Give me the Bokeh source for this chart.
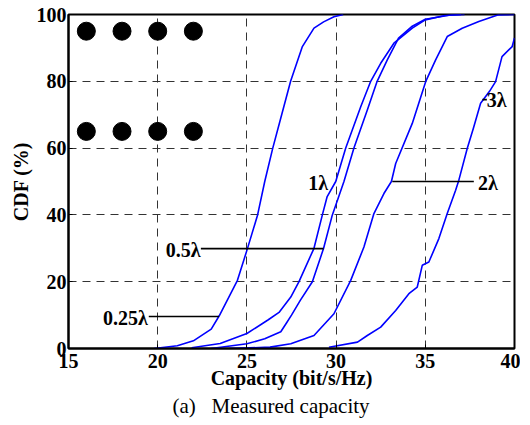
from bokeh.plotting import figure
from bokeh.models import Range1d, FixedTicker, Title
from bokeh.embed import file_html
from bokeh.resources import INLINE
from bokeh.core.properties import value

# ---- data ----
cap_025 = [19.8, 21.1, 22.0, 23.0, 23.45, 24.47, 25.03, 25.6, 26.0, 26.45, 26.9, 27.45, 28.1, 28.76, 29.3, 29.88, 30.4]
cdf_025 = [0, 0.8, 2.3, 5.8, 9.8, 20.4, 29.9, 40.0, 50.0, 60.0, 69.0, 80.0, 90.3, 95.9, 97.8, 99.3, 100]

cap_05 = [21.9, 23.5, 25.0, 26.2, 26.8, 27.46, 27.92, 28.76, 29.23, 29.5, 29.98, 30.54, 31.38, 31.94, 32.5, 33.24, 34.27, 35.0, 36.1, 37.0]
cdf_05 = [0.2, 1.5, 4.5, 8.6, 10.8, 15.4, 20.0, 30.0, 40.0, 45.5, 50.0, 60.0, 72.4, 80.0, 85.4, 91.4, 95.9, 98.4, 99.7, 100]

cap_1 = [23.0, 25.0, 26.0, 26.9, 27.2, 27.5, 28.0, 28.67, 29.3, 29.79, 30.44, 31.0, 31.75, 32.3, 32.87, 33.5, 34.27, 35.0, 36.5, 37.2]
cdf_1 = [0, 1.4, 2.9, 5.0, 7.5, 10.0, 14.5, 20.0, 30.0, 40.0, 50.0, 60.0, 71.4, 80.0, 86.4, 92.9, 96.5, 98.6, 99.9, 100]

cap_2 = [24.0, 26.3, 27.46, 28.76, 29.88, 30.82, 31.56, 32.12, 32.68, 33.1, 33.34, 34.27, 35.02, 35.58, 36.23, 37.07, 38.0, 39.1, 40.0]
cdf_2 = [0, 0.4, 1.4, 3.9, 10.4, 20.4, 30.4, 40.4, 46.4, 50.0, 55.4, 67.4, 79.9, 86.4, 93.4, 95.9, 97.9, 99.9, 100]

cap_3 = [29.6, 31.2, 31.75, 32.5, 33.34, 34.08, 34.55, 34.83, 35.2, 35.76, 36.23, 36.7, 36.88, 37.35, 37.7, 38.1, 38.6, 38.94, 39.3, 39.87, 40.0]
cdf_3 = [0.4, 1.9, 3.9, 6.4, 11.4, 16.4, 18.4, 24.9, 25.9, 32.9, 40.4, 47.4, 50.4, 59.9, 66.0, 73.4, 77.0, 79.9, 87.4, 90.4, 93.0]

dot_x = [16, 18, 20, 22, 16, 18, 20, 22]
dot_y = [95, 95, 95, 95, 65, 65, 65, 65]

x_ticks = [15, 20, 25, 30, 35, 40]
y_ticks = [0, 20, 40, 60, 80, 100]

labels = ["0.25λ", "0.5λ", "1λ", "2λ", "3λ"]
label_x = [19.45, 22.4, 29.55, 37.95, 38.45]
label_y = [9.2, 29.5, 49.5, 49.6, 74.4]
label_align = ["right", "right", "right", "left", "left"]

# leader lines: (x0, x1, y)
lead_x0 = [19.5, 22.42, 33.15, 38.2]
lead_x1 = [23.44, 29.3, 37.72, 38.45]
lead_y = [9.6, 29.9, 50.0, 74.5]

SERIF = "Liberation Serif"

p = figure(width=520, height=424, output_backend="svg", toolbar_location=None,
           x_range=Range1d(15, 40), y_range=Range1d(0, 100),
           min_border_left=68, min_border_right=6, min_border_top=14, min_border_bottom=76)
p.background_fill_color = "white"
p.border_fill_color = "white"
p.outline_line_color = "black"
p.outline_line_width = 2

for ax in (p.xaxis[0], p.yaxis[0]):
    ax.axis_line_color = "black"
    ax.axis_line_width = 2
    ax.major_tick_in = 4
    ax.major_tick_out = 0
    ax.minor_tick_line_color = None
    ax.major_tick_line_color = "black"
    ax.major_label_text_font = SERIF
    ax.major_label_text_font_style = "bold"
    ax.major_label_text_font_size = "20px"
    ax.major_label_text_color = "black"
    ax.axis_label_text_font = SERIF
    ax.axis_label_text_font_style = "bold"
    ax.axis_label_text_font_size = "20px"
    ax.axis_label_text_color = "black"

p.xaxis.ticker = FixedTicker(ticks=x_ticks)
p.yaxis.ticker = FixedTicker(ticks=y_ticks)
p.xaxis.axis_label = "Capacity (bit/s/Hz)"
p.yaxis.axis_label = "CDF (%)"
p.xaxis.major_label_standoff = 5
p.yaxis.major_label_standoff = 2
p.xaxis.axis_label_standoff = -4
p.yaxis.axis_label_standoff = 2

for g in (p.xgrid[0], p.ygrid[0]):
    g.grid_line_color = "#333333"
    g.grid_line_dash = "8 6"
    g.grid_line_width = 1

blue = "#0000ff"
for xs, ys in ((cap_025, cdf_025), (cap_05, cdf_05), (cap_1, cdf_1), (cap_2, cdf_2), (cap_3, cdf_3)):
    p.line(xs, ys, line_color=blue, line_width=1.6)

p.segment(x0=lead_x0, y0=lead_y, x1=lead_x1, y1=lead_y, line_color="black", line_width=1.6)

p.scatter(dot_x, dot_y, size=18, fill_color="black", line_color="black")

src = dict(x=label_x, y=label_y, t=labels, a=label_align)
p.text(x="x", y="y", text="t", text_align="a", source=src,
       text_baseline="middle", text_font=value(SERIF), text_font_style="bold",
       text_font_size="20px", text_color="black")

cap = Title(text="(a)\u00a0\u00a0\u00a0Measured capacity", align="left", offset=104,
            text_font=SERIF, text_font_style="normal", text_font_size="21px",
            text_color="black", standoff=0)
p.add_layout(cap, "below")

open("out.html", "w").write(file_html(p, INLINE))
